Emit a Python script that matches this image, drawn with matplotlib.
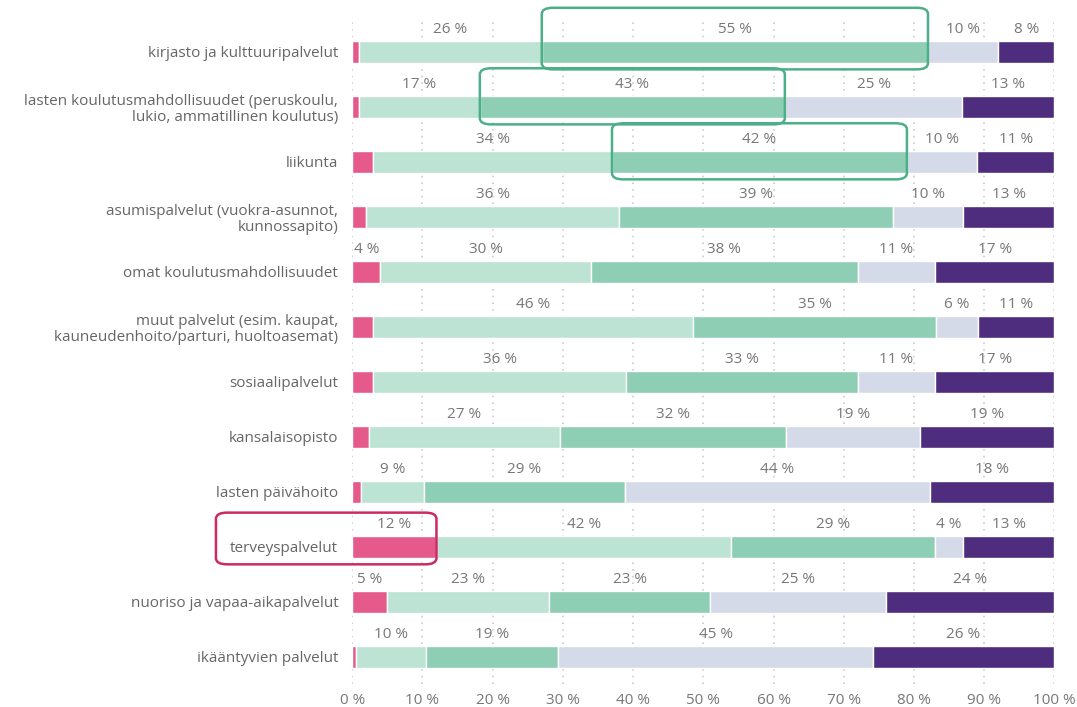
import numpy as np
import matplotlib.pyplot as plt
from matplotlib.patches import FancyBboxPatch

# Categories (top to bottom)
categories = [
    "kirjasto ja kulttuuripalvelut",
    "lasten koulutusmahdollisuudet (peruskoulu,\nlukio, ammatillinen koulutus)",
    "liikunta",
    "asumispalvelut (vuokra-asunnot,\nkunnossapito)",
    "omat koulutusmahdollisuudet",
    "muut palvelut (esim. kaupat,\nkauneudenhoito/parturi, huoltoasemat)",
    "sosiaalipalvelut",
    "kansalaisopisto",
    "lasten päivähoito",
    "terveyspalvelut",
    "nuoriso ja vapaa-aikapalvelut",
    "ikääntyvien palvelut",
]

# Segment values (%), one list per answer group
seg_pink = [1, 1, 3, 2, 4, 3, 3, 2.4, 1.3, 12, 5, 0.5]
seg_light = [26, 17, 34, 36, 30, 46, 36, 27, 9, 42, 23, 10]
seg_green = [55, 43, 42, 39, 38, 35, 33, 32, 29, 29, 23, 19]
seg_gray = [10, 25, 10, 10, 11, 6, 11, 19, 44, 4, 25, 45]
seg_purple = [8, 13, 11, 13, 17, 11, 17, 19, 18, 13, 24, 26]

segments = [seg_pink, seg_light, seg_green, seg_gray, seg_purple]
colors = ["#e65a8b", "#bce3d3", "#8dceb4", "#d5dae8", "#4f2d7e"]

# highlighted cells: (row, segment index, colour)
highlights = [(0, 2, "#4caf88"), (1, 2, "#4caf88"), (2, 2, "#4caf88")]

plt.rcParams['font.family'] = ['Open Sans', 'DejaVu Sans']

fig = plt.figure(figsize=(10.77, 7.07), dpi=100)
ax = fig.add_axes([0.327, 0.033, 0.652, 0.942])

data = np.array(segments, dtype=float)
# normalise each row to 100 so rounding does not overflow
data = data / data.sum(axis=0) * 100
y = np.arange(len(categories))

left = np.zeros(len(categories))
for k, vals in enumerate(data):
    ax.barh(y, vals, left=left, height=0.4, color=colors[k],
            edgecolor="white", linewidth=1, zorder=2)
    for i, v in enumerate(vals):
        raw = segments[k][i]
        if raw >= 4:
            ax.text(left[i] + v / 2, y[i] - 0.41, f"{raw:.0f} %", ha="center",
                    va="center", fontsize=11, color="#777777", zorder=3)
    left += vals

# highlight boxes around chosen segments
cum = np.vstack([np.zeros(len(categories)), np.cumsum(data, axis=0)])
for row, k, col in highlights:
    x0, x1 = cum[k][row], cum[k + 1][row]
    top = -0.8 if row == 0 else -0.7
    box = FancyBboxPatch((x0, row + top), x1 - x0, 0.32 - top,
                         boxstyle="round,pad=0,rounding_size=1.6",
                         mutation_aspect=0.07, clip_on=False,
                         fill=False, edgecolor=col, linewidth=1.8, zorder=4)
    ax.add_patch(box)

# box round the terveyspalvelut label and its pink segment
row = categories.index("terveyspalvelut")
x1 = cum[1][row]
box = FancyBboxPatch((-19.4, row - 0.62), x1 + 19.4, 0.94,
                     boxstyle="round,pad=0,rounding_size=1.6",
                     mutation_aspect=0.07,
                     fill=False, edgecolor="#cc2a64", linewidth=1.8,
                     zorder=4, clip_on=False)
ax.add_patch(box)

ax.set_xlim(0, 100)
ax.set_ylim(11.49, -0.62)
ax.set_yticks(y)
ax.set_yticklabels(categories, fontsize=11, color="#666666", linespacing=1.15)
ax.set_xticks(np.arange(0, 101, 10))
ax.set_xticklabels([f"{t} %" for t in range(0, 101, 10)], fontsize=11, color="#777777")
ax.tick_params(length=0, pad=7)
ax.tick_params(axis="y", pad=10)
ax.grid(axis="x", linestyle=(0, (1, 3)), color="#cccccc", linewidth=1.2, zorder=0)
for s in ax.spines.values():
    s.set_visible(False)

fig.savefig("out.png", dpi=100)
